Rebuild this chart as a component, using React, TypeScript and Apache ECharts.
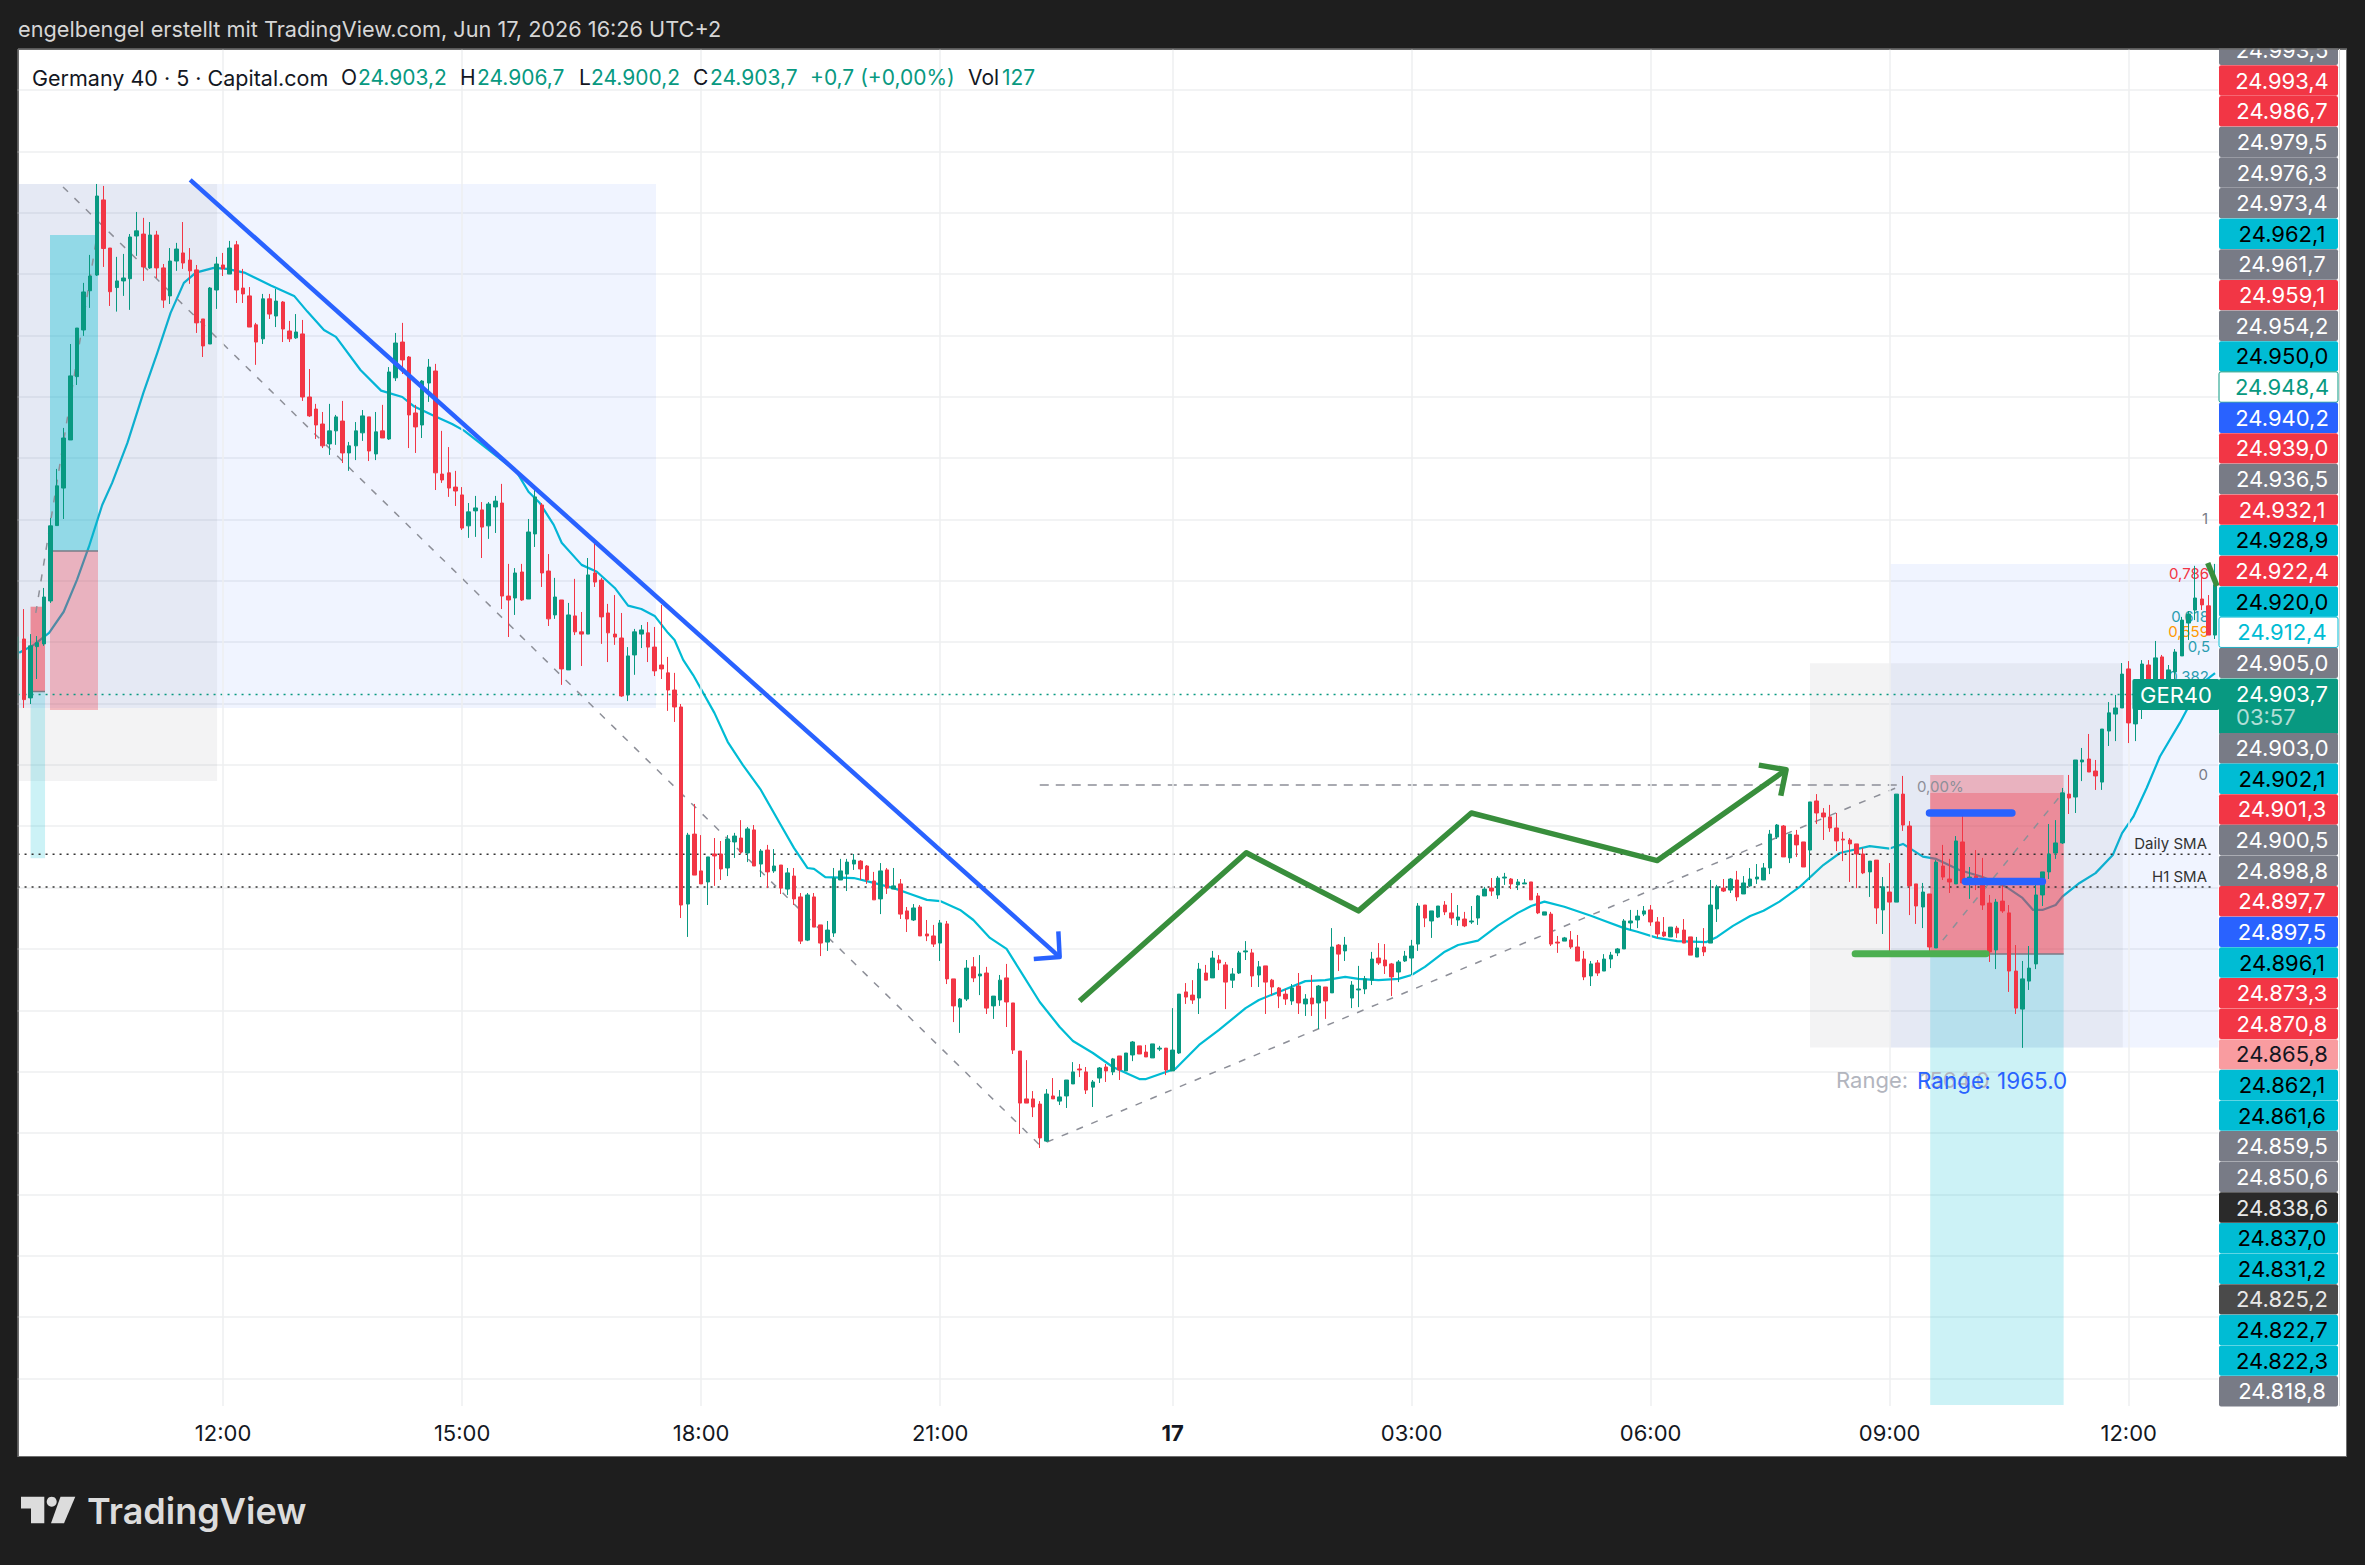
import React, { useEffect, useRef } from "react";
import * as echarts from "echarts";

// [open, close, low, high] (German decimals in the UI)
const candlesA = [
[24918.2,24927.1,24914.5,24929.2],[24926.3,24901.6,24898.2,24938.5],[24902.3,24923.5,24899.8,24928.3],[24923.2,24924.8,24910,24927.5],[24924.3,24943.4,24923.5,24947.1],
[24941.8,24972.4,24941,24975.6],[24972.5,24988.7,24972.4,24995.6],[24987.8,25008.2,24975.2,25012.3],[25007.4,25033.5,25007.4,25046.5],[25033.2,25053,25029.8,25053],
[25052.2,25067.7,25049.8,25071.4],[25068.2,25074.2,25061.2,25082.8],[25074.6,25106.8,25074.2,25111.7],[25105.2,25085.4,25077.9,25110.9],[25085.6,25067.8,25062,25085.6],
[25069.5,25072.2,25059.7,25082],[25072.2,25073.4,25066.1,25083.2],[25073.1,25090.1,25060.4,25091.3],[25090.5,25092.6,25082.4,25100.3],[25091.3,25077.9,25072.2,25097.9],
[25077.5,25090.9,25077.1,25096.2],[25090.9,25077.5,25073.4,25092.6],[25077.5,25064.4,25061.2,25079.1],[25066.1,25080.3,25062.8,25085.6],[25080.3,25085.2,25076.3,25087.7],
[25083.6,25079.5,25077.1,25096.2],[25080.7,25076.3,25071,25085.6],[25076.7,25055.1,25051,25078.7],[25056.7,25045.7,25041.2,25056.7],[25046.5,25069.3,25046.5,25069.7],
[25068.5,25079.1,25060.8,25082],[25078.7,25077.1,25074.2,25083.6],[25075,25085.6,25075,25088.5],[25086.9,25068.5,25063.2,25088.5],[25069.3,25066.9,25063.2,25077.1],
[25066.1,25053.4,25053.4,25069.7],[25054.3,25047.3,25038,25055.1],[25048.6,25064.9,25046.5,25066.9],[25064.9,25058.7,25056.7,25066.9],[25057.9,25064,25053.4,25068.9],
[25063.6,25052.6,25047.3,25064],[25051.8,25048.6,25047.3,25055.9],[25049,25051.4,25048.6,25058.7],[25050.6,25024.9,25023.3,25056.3],[25024.9,25017.2,25016.8,25036.3],
[25020,25013.5,25007.8,25022.1],[25013.9,25005,25004.1,25018.8],[25005.8,25011.1,25001.3,25022.1],[25011.1,25016.8,25005.4,25017.6],[25015.1,25002.1,24998,25023.3],
[25002.1,25005,24994.8,25006.6],[25005,25011.1,24999.2,25014.7],[25010.3,25017.2,25007,25019.6],[25016.8,25002.9,24998.8,25016.8],[25001.7,25010.7,24999.2,25018.8],
[25011.1,25008.2,25008.2,25021.7],[25007.8,25035.1,25007.4,25037.1],[25032.7,25046.9,25031.4,25051],[25047.3,25040,25034.3,25055.1],[25041.2,25017.6,25004.1,25041.6],
[25018.4,25012.7,25002.1,25021.7],[25013.5,25031.4,25008.2,25031.8],[25030.6,25037.1,25022.9,25040.4],[25035.5,24994,24987,25038.4],[24993.5,24991.1,24989.9,25011.1],
[24994,24987.8,24984.2,25004.5],[24988.2,24986.6,24980.5,24994.8],
];
const candlesB = [
[24985,24971.5,24970.7,24988.2],[24972.4,24978.1,24967.5,24981.7],[24978.5,24979.7,24967.9,24984.6],[24978.9,24971.9,24959.3,24982.1],[24972.4,24981.3,24967.1,24982.1],
[24980.1,24982.5,24969.5,24984.6],[24981.7,24943.8,24938.5,24989.5],[24943.8,24942.2,24927.1,24956.9],[24943,24953.2,24936.1,24955.2],[24953.6,24942.2,24941.8,24956.9],
[24942.6,24969.9,24942.6,24975.2],[24969.1,24984.2,24963.8,24987],[24980.9,24953.2,24947.5,24981.7],[24954,24934.5,24931.6,24960.9],[24936.1,24943.4,24934.5,24951.2],
[24942.2,24914.1,24907.6,24942.2],[24913.7,24936.1,24913.7,24941],[24935.7,24929.2,24927.9,24950.8],[24929.2,24928.3,24915.3,24937.3],[24928.3,24952.4,24928.3,24959.3],
[24953.2,24949.5,24947.5,24967.1],[24950.3,24935.3,24924.3,24951.2],[24936.9,24928.8,24916.9,24940.6],[24928.3,24927.1,24923.9,24944.2],[24926.7,24903.1,24902.7,24936.9],
[24903.5,24919.4,24901,24923],[24919.8,24929.2,24911.7,24930.4],[24928.3,24930,24922.6,24932],[24928.8,24923,24916.9,24933.2],[24923,24913.3,24911.2,24931.2],
[24915.7,24914.1,24910,24940.2],[24912.5,24905.5,24897,24919],[24905.5,24898.6,24892.5,24912.5],[24898.6,24817.9,24812.6,24899.8],[24818.3,24846.4,24804.9,24847.3],
[24846.8,24830.1,24830.1,24859.1],[24831.8,24826.5,24826.5,24846.4],[24827.3,24837.5,24817.9,24837.5],[24838.7,24837.9,24825.7,24845.2],[24838.7,24832.6,24828.1,24844],
[24833,24844.8,24829.7,24846.4],[24843.6,24846,24837.1,24847.3],[24845.2,24839.5,24838.7,24852.5],[24839.1,24848.9,24835.4,24849.7],[24848.5,24833.8,24833.8,24850.5],
[24834.6,24839.9,24829.3,24840.7],[24840.3,24831.4,24824.8,24842.4],[24831.8,24833.8,24831,24840.7],[24834.2,24824.8,24822.4,24834.2],[24824.4,24831,24822,24833],
[24829.7,24820.4,24817.9,24833],[24821.2,24803.2,24802,24822.8],[24803.6,24822,24803.2,24822.8],[24821.2,24808.9,24808.9,24822.8],[24809.8,24802.4,24797.1,24809.8],
[24802.8,24807.7,24799.2,24811.4],[24806.5,24828.9,24804.9,24833],[24828.1,24831.8,24828.1,24836.7],[24830.5,24835.4,24823.6,24836.7],[24834.6,24836.2,24832.2,24838.7],
[24835.8,24832.6,24828.1,24836.2],[24833.8,24828.1,24826.5,24834.2],[24827.7,24820,24820,24831.4],[24820.4,24831.8,24814.2,24835],[24832.2,24824.8,24822.4,24833],
[24824.4,24825.7,24824.4,24833],[24826.5,24814.2,24812.2,24828.5],[24815.5,24812.2,24806.9,24817.1],
];
const candlesC = [
[24811.8,24816.7,24811.4,24818.3],[24817.1,24805.3,24805.3,24817.9],[24806.1,24805.3,24803.2,24811.8],[24805.3,24802,24800.8,24809.8],[24802.4,24810.6,24795.1,24811.8],
[24810.2,24787.8,24785.7,24811.4],[24787.8,24776.8,24770.2,24787.8],[24776.3,24779.6,24765.8,24780],[24779.6,24792.2,24778.8,24795.5],[24792.7,24788.2,24786.5,24796.7],
[24789,24789.8,24781.2,24797.5],[24790.2,24775.9,24773.5,24792.7],[24776.8,24780.8,24771.5,24780.8],[24779.2,24787.3,24776.8,24789.4],[24788.2,24778.4,24768.2,24793.9],
[24778,24758.8,24757.2,24778],[24758.4,24737.2,24724.6,24758.4],[24738.9,24737.2,24737.2,24754.7],[24738.9,24735.6,24731.5,24742.1],[24736.8,24723,24718.9,24738],
[24721.7,24740.9,24721.3,24742.9],[24740.1,24738.9,24738.9,24747.4],[24738,24739.7,24736.4,24742.5],[24740.1,24746.6,24735.2,24746.6],[24745,24749.9,24745,24753.9],
[24751.1,24750.7,24747.8,24753.1],[24749.9,24742.5,24740.9,24751.9],[24743.7,24745.8,24735.6,24746.6],[24747.4,24751.5,24745.4,24751.9],[24751.9,24750.3,24745.8,24753.1],
[24749.9,24755.2,24748.6,24755.6],[24756.4,24750.7,24746.6,24756.4],[24750.3,24757.6,24750.3,24757.6],[24756.8,24762.1,24754.3,24762.5],[24760.5,24757.2,24757.2,24760.5],
[24758,24756,24756,24760.9],[24755.6,24761.3,24755.6,24761.3],[24759.2,24759.6,24758.4,24760.5],[24759.6,24750.7,24748.6,24759.6],[24750.3,24758.8,24750.3,24775.9],
[24757.6,24781.6,24757.2,24781.6],[24782.5,24780.4,24777.6,24786.1],[24781.2,24779.2,24777.6,24787.3],[24780,24791.8,24773.5,24794.3],[24790.2,24787.3,24787.3,24793.5],
[24788.2,24796.3,24788.2,24799.2],[24795.5,24794.3,24791.4,24797.5],[24793.5,24786.5,24775.5,24794.7],[24787.3,24789.8,24784.1,24792.2],[24790.2,24798.4,24789.8,24799.2],
[24798.8,24799.2,24795.5,24803.2],[24798.4,24789,24784.5,24800],[24789.4,24792.7,24784.5,24795.1],[24793.1,24786.5,24773.5,24793.1],[24787.3,24784.5,24781.2,24787.8],
[24784.1,24780.8,24775.9,24784.5],[24781.6,24779.6,24777.2,24783.7],[24778.8,24784.1,24777.2,24785.7],[24784.9,24778,24773.5,24790.2],[24777.6,24779.6,24772.7,24781.6],
[24780,24777.6,24772.7,24789.4],[24778,24784.9,24767.4,24785.3],[24784.5,24778.8,24771.5,24784.5],[24782.1,24800.8,24782.1,24808.5],[24801.6,24797.9,24791,24802],
[24799.2,24801.6,24795.1,24804.9],
];
const candlesD = [
[24780,24785.3,24775.9,24786.9],[24783.3,24783.7,24776.3,24793.1],[24783.7,24787.8,24781.6,24789],[24787.3,24795.9,24785.3,24798.8],[24796.3,24794.3,24793.5,24802.4],
[24795.5,24793.1,24789.8,24802],[24793.9,24788.6,24780.8,24794.3],[24790.6,24794.7,24786.5,24795.5],[24795.1,24797.1,24794.7,24799.2],[24796.3,24801.2,24789.4,24803.7],
[24802,24817.5,24799.2,24818.7],[24817.9,24812.6,24808.9,24817.9],[24811.4,24815.5,24804.5,24815.5],[24813,24817.5,24812.6,24817.5],[24817.9,24815.1,24813.8,24819.5],
[24814.7,24812.6,24809.8,24822.8],[24811.8,24813,24809.4,24817.9],[24812.2,24809.4,24808.9,24815.1],[24811,24811.4,24810.2,24817.5],[24812.6,24821.6,24809.8,24822],
[24821.6,24824.4,24821.6,24825.3],[24824.8,24823.6,24821.6,24828.9],[24822,24828.9,24820.4,24829.7],[24828.9,24829.3,24826.1,24831],[24828.5,24826.5,24824.4,24828.9],
[24826.1,24827.3,24824,24828.5],[24826.5,24826.9,24826.5,24828.5],[24827.3,24820,24820,24827.3],[24821.6,24814.7,24814.2,24822.8],[24813.8,24815.1,24813.8,24815.1],
[24814.2,24802,24801.2,24815.1],[24802.8,24802.4,24798.4,24805.3],[24803.2,24804.5,24803.2,24804.9],[24803.7,24800.8,24800,24807.3],[24800.8,24795.1,24795.1,24805.7],
[24795.9,24788.6,24787.3,24799.2],[24789,24793.9,24784.9,24795.1],[24794.3,24790.2,24789,24795.5],[24791,24795.9,24791,24797.9],[24795.9,24797.5,24792.2,24798.8],
[24798.4,24800,24797.1,24800.4],[24800,24811.4,24800,24812.2],[24810.6,24811.4,24807.7,24815.9],[24811.8,24813.4,24808.5,24815.9],[24814.2,24815.5,24813.4,24817.5],
[24815.9,24811,24809.4,24817.9],[24811,24806.1,24804.5,24813],[24806.9,24805.3,24804.9,24813],[24804.9,24808.9,24804.9,24808.9],[24808.5,24806.5,24804.5,24809.4],
[24807.7,24802.4,24802.4,24812.2],[24804.9,24797.5,24797.5,24804.9],[24796.7,24800.4,24796.7,24804.9],[24800.8,24798.8,24797.1,24808.5],[24802.4,24817.9,24802.4,24828.1],
[24816.3,24825.3,24811,24826.1],[24824.8,24823.6,24823.2,24828.5],[24824,24828.5,24822.8,24828.9],[24828.1,24821.2,24819.5,24831.8],[24822.4,24826.9,24822.4,24829.7],
[24825.7,24828.5,24825.3,24833],[24828.5,24829.3,24826.5,24834.6],[24828.1,24833,24828.1,24835],[24833,24846.8,24830.5,24848.5],[24845.6,24850.5,24844.8,24850.9],
[24850.1,24837.5,24837.5,24850.5],
];
const candlesE = [
[24837.1,24846.8,24835,24846.8],[24846.4,24842.4,24837.5,24848.5],[24843.6,24833.4,24833.4,24843.6],[24840.3,24859.9,24828.1,24859.9],[24860.3,24855.4,24850.9,24863.1],
[24855.4,24853.8,24844.4,24857.4],[24853.8,24849.3,24847.7,24858.7],[24849.3,24844,24839.9,24855.4],[24844.8,24844.4,24835.8,24847.7],[24844.4,24842.8,24827.3,24845.2],
[24842.8,24838.7,24824.8,24842.8],[24838.7,24831,24830.5,24841.1],[24831.4,24835.8,24821.2,24835.8],[24836.2,24816.7,24810.2,24836.2],[24815.9,24825.3,24806.1,24829.3],
[24823.2,24819.1,24797.9,24835],[24819.1,24863.1,24819.1,24863.1],[24863.1,24850.5,24848.1,24870.5],[24850.1,24825.7,24813.8,24852.1],[24826.5,24817.5,24810.2,24826.5],
[24817.1,24823.2,24808.5,24826.9],[24822.4,24800.8,24797.1,24822.4],[24800.4,24835.4,24800.4,24836.2],[24833.8,24829.3,24828.1,24842.4],[24828.5,24827.3,24822.8,24836.7],
[24826.5,24844,24826.5,24846],[24843.6,24826.9,24826.9,24855],[24828.5,24829.3,24820.4,24833.4],[24829.7,24828.5,24824,24840.3],[24828.9,24817.9,24815.9,24837.1],
[24818.7,24798.8,24794.7,24822],[24799.6,24819.1,24791.8,24820.4],[24819.5,24815.5,24814.7,24827.7],[24814.7,24791,24782.5,24817.9],[24791,24775.9,24773.5,24801.6],
[24775.5,24787.8,24759.7,24795.1],[24786.9,24792.2,24783.3,24801.2],[24793.9,24822,24791.8,24826.1],[24822,24831.4,24817.5,24831.4],[24831.4,24838.7,24828.5,24850.9],
[24839.1,24843.2,24836.7,24852.5],[24843.2,24863.6,24842.8,24865.6],[24863.1,24861.5,24855,24870.9],[24861.9,24877,24855.4,24877],[24876.2,24877,24868.4,24881.9],
[24877.4,24872.1,24872.1,24887.6],[24872.5,24870.5,24864.8,24877],[24868,24889.6,24864.8,24889.6],[24888.8,24896.2,24882.7,24900.6],[24895.7,24898.2,24884.7,24903.5],
[24898.2,24912,24898.2,24916.5],[24914.1,24892.1,24883.9,24917.3],[24891.7,24905.5,24884.7,24907.6],[24899.4,24916.1,24893.7,24917.7],[24915.7,24903.5,24901.4,24917.7],
[24903.5,24918.6,24901.4,24925.5],[24919,24908.4,24905.5,24919.8],[24907.6,24913.7,24903.5,24915.7],[24912.9,24921,24909.6,24922.2],[24919.4,24934,24919.4,24935.3],
[24932.8,24936.5,24925.9,24937.7],[24938.1,24943,24934,24956.1],[24942.6,24940.2,24938.1,24954.4],[24939.8,24927.9,24927.9,24944.2],[24927.9,24948.4,24926.3,24956.9],
];
const candles = [...candlesA, ...candlesB, ...candlesC, ...candlesD, ...candlesE];

// Moving average: bar position, price
const emaBars = [0.3,2.5,4.8,7,9,10.8,12.8,14.3,16.6,19,21.1,23.1,25.1,26.9,29.6,31.6,34.2,38.2,41.7,43.7,46.2,48,51.7,54.8,58,59.8,62.5,65.5,67.3,75.2,77,78.7,80.8,82,85,87.3,90,92,94,96,98,99,100.3,101.8,105,107,109.3,112,115,117,119,120,121.7,126,129,132,134.5,137,139,142,144,146.5,149,151,154,157,159,162,165,169,170,173,174.4,178,181,185,187,190,194,197,200,202,205,208,210,212,215,217,220,223,226,228,230,233,237,239,242,244,247,250,254.4,256,258.4,261,263,265.4,268.5,272,274.5,279,282,284,287,289,292.5,296,299.6,302,303.6,305,307,308,310.6,313,315.6,317,318.7,320.7,322.7,325.7,327,329.7,331];
const emaPrices = [24920.7,24923.9,24928.8,24937.4,24950.4,24963.9,24980.9,24989.9,25006.2,25026.6,25042.9,25059.2,25071.4,25075.6,25077.5,25077.1,25075.6,25070.3,25066.1,25059.7,25052.2,25049.4,25035.9,25027.5,25024.9,25021,25017.6,25013.9,25011.2,24994.5,24986.3,24981.7,24972.8,24965.5,24956.5,24953.7,24947.1,24939.9,24938.5,24935.7,24928.8,24925.9,24917.8,24911.6,24896.2,24884.4,24874.9,24864.8,24850.5,24841.1,24833,24832.6,24829.3,24828.9,24826.9,24824.8,24822.4,24820,24819.5,24815.9,24811.8,24804.5,24800,24791.4,24778.4,24768.2,24762.5,24757.6,24751.9,24747,24747,24749.9,24751.1,24760.9,24767,24775.9,24779.2,24782.5,24786.9,24787.3,24788.6,24787.8,24787.3,24787.8,24789.4,24792.7,24798.9,24801.6,24803.4,24809.5,24814.7,24817.5,24819.3,24817.2,24813.5,24811.5,24808.5,24807,24804.5,24803.2,24802.8,24804.9,24809.4,24813.4,24815.6,24819.3,24825.4,24834.2,24839.1,24841.9,24840.9,24842.8,24837.6,24836.7,24832.2,24829.3,24825.2,24820.8,24815.9,24815.9,24817.9,24821.3,24826.9,24830.9,24838.3,24847.2,24853.9,24865.6,24878.4,24892.1,24898.7,24909.6,24912.4];

const tickBars = [31, 67, 103, 139, 174, 210, 246, 282, 318];
const tickLabels = ["12:00", "15:00", "18:00", "21:00", "17", "03:00", "06:00", "09:00", "12:00"];

// Drawing tools in [bar, price]
const blueTrend = [[26.05, 25113.4], [157, 24796.7]];
const blueHead = [[156.8, 24807.2], [157, 24796.7], [153.1, 24795.9]];
const greenPath = [[160, 24778.8], [185.1, 24839.2], [202, 24815.5], [219, 24855.4], [247, 24836], [266.4, 24873]];
const greenHead = [[262.3, 24874.9], [266.4, 24873], [265.6, 24862.4]];
const greenTail = [[329.9, 24957.3], [331.3, 24947.9]];
const fibPath = [[6.9, 25110.5], [154, 24720.1], [284, 24866.8]];
const fibLevel = [[154, 24866.8], [284, 24866.8]];
const fibShort = [[290, 24803.6], [308.3, 24864.4]];
const fibLeft = [[2.8, 24936.9], [12, 25090.5]];
const blueMarkHigh = [[288, 24855.4], [300.4, 24855.4]];
const blueMarkLow = [[293.4, 24827.5], [305, 24827.5]];
const greenMark = [[276.8, 24798], [296.5, 24798]];
const lastPrice = 24903.7;
const dailySma = 24838.6;
const h1Sma = 24825.2;
const splitLeft = [[4.94, 24962.2], [12.17, 24962.2]];
const splitSmall = [[2.02, 24904.9], [4.19, 24904.9]];
const splitRight = [[288.1, 24797.9], [308.2, 24797.9]];

// Boxes: barFrom, barTo, priceTop, priceBottom
const boxes = [
  [-0.8, 96.2, 25111.7, 24898.2],
  [-0.8, 30.1, 25111.7, 24868.4],
  [4.94, 12.17, 25090.9, 24962.2],
  [4.94, 12.17, 25090.9, 24962.2],
  [4.94, 12.17, 24962.2, 24897.4],
  [2.02, 4.19, 24939.4, 24904.9],
  [2.02, 4.19, 24939.4, 24904.9],
  [2.02, 4.19, 24904.9, 24837],
  [282.1, 331.5, 24956.9, 24759.8],
  [270, 317.1, 24916.4, 24759.8],
  [288.1, 308.2, 24870.9, 24797.9],
  [288.1, 308.2, 24863.5, 24797.9],
  [288.1, 308.2, 24797.9, 24614.2],
];
const BLUE = "rgba(41,98,255,0.07)";
const GRAY = "rgba(120,123,134,0.09)";
const PINK = "rgba(242,54,69,0.3)";
const CYAN = "rgba(0,188,212,0.2)";
const boxFills = [BLUE, GRAY, CYAN, CYAN, PINK, PINK, PINK, CYAN, BLUE, GRAY, PINK, PINK, CYAN];

const tagLabels = ["24.993,5","24.993,4","24.986,7","24.979,5","24.976,3","24.973,4","24.962,1","24.961,7","24.959,1","24.954,2","24.950,0","24.948,4","24.940,2","24.939,0","24.936,5","24.932,1","24.928,9","24.922,4","24.920,0","24.912,4","24.905,0","24.903,7","24.903,0","24.902,1","24.901,3","24.900,5","24.898,8","24.897,7","24.897,5","24.896,1","24.873,3","24.870,8","24.865,8","24.862,1","24.861,6","24.859,5","24.850,6","24.838,6","24.837,0","24.831,2","24.825,2","24.822,7","24.822,3","24.818,8"];
const tagKinds = "GRRGGGCGRGCwBRGRCRCvGTGCRGGRBCRRPCCGGDCCKCCG".split("");
const KIND: any = {
  G: ["#787b86", "#ffffff"], R: ["#f23645", "#ffffff"], C: ["#00bcd4", "#000000"], B: ["#2962ff", "#ffffff"],
  T: ["#089981", "#ffffff"], P: ["#f99ca0", "#131722"], D: ["#2a2a2a", "#e8e8e8"], K: ["#4a4a4a", "#e8e8e8"],
  w: ["#ffffff", "#089981"], v: ["#ffffff", "#00bcd4"],
};

const FONT = "Inter";
function txt(text: string, x: number, y: number, fill: string, size: number, align = "left", weight = "400", z = 60) {
  return {
    type: "text", x, y, z, silent: true,
    style: { text, fill, font: `${weight} ${size}px ${FONT}`, textAlign: align, textVerticalAlign: "middle", align, verticalAlign: "middle" },
  };
}
function poly(data: number[][], color: string, width: number, z: number, type: any = "solid", cap = "butt") {
  return {
    type: "line", xAxisIndex: 1, yAxisIndex: 0, data, symbol: "none", silent: true, z,
    lineStyle: { color, width, type, cap, join: "round" },
  };
}

export default function App() {
  const ref = useRef<HTMLDivElement>(null);
  useEffect(() => {
    const chart = echarts.init(ref.current!, undefined, { renderer: "svg" });
    const tagEls: any[] = [];
    tagLabels.forEach((label, k) => {
      const [bg, ink] = KIND[tagKinds[k]];
      const isLast = k === 21;
      const cy = k <= 20 ? 49.9 + 30.65 * k : 748.2 + 30.62 * (k - 22);
      const top = isLast ? 678.5 : cy - 15.2;
      const h = isLast ? 56 : 30.4;
      tagEls.push({
        type: "rect", z: 40, silent: true,
        shape: { x: 2219, y: top, width: 119, height: h, r: 2 },
        style: { fill: bg, stroke: bg === "#ffffff" ? ink : undefined, lineWidth: 1 },
      });
      tagEls.push(txt(label, 2282, isLast ? 693.5 : cy, ink, 22, "center", "400", 41));
    });
    const option: any = {
      animation: false,
      backgroundColor: "transparent",
      grid: { left: 13.88, top: 49, width: 2204.48, height: 1390.8, containLabel: false },
      xAxis: [
        {
          type: "category",
          data: candles.map((_, i) => String(i)),
          axisLine: { show: false },
          axisTick: { show: false },
          splitLine: { show: false },
          axisLabel: {
            interval: (i: number) => tickBars.includes(i),
            formatter: (_v: string, i: number) => {
              const s = tickLabels[tickBars.indexOf(i)] ?? "";
              return s === "17" ? "{b|17}" : s;
            },
            color: "#131722", fontSize: 22, fontFamily: FONT, margin: -18, hideOverlap: false,
            rich: { b: { fontWeight: "bold", fontSize: 22, fontFamily: FONT, color: "#131722" } },
          },
        },
        { type: "value", min: -0.5, max: 331.5, show: false, position: "top", splitLine: { show: false } },
      ],
      yAxis: {
        type: "value", min: 24600, max: 25166.7, interval: 25, position: "right",
        axisLine: { show: false }, axisTick: { show: false }, axisLabel: { show: false },
        splitLine: { show: true, showMinLine: false, showMaxLine: false, lineStyle: { color: "#eeeff1", width: 1.5 } },
      },
      series: [
        {
          type: "line", xAxisIndex: 1, yAxisIndex: 0, data: [], symbol: "none", silent: true, z: 0,
          markLine: {
            symbol: "none", silent: true, label: { show: false },
            lineStyle: { color: "#eeeff1", width: 1.5, type: "solid" },
            data: tickBars.map((b) => [{ coord: [b, 25166.7] }, { coord: [b, 24613.8] }]),
          },
        },
        poly(emaBars.map((b, k) => [b, emaPrices[k]]), "#00bcd4", 2.2, 1),
        {
          type: "custom", xAxisIndex: 1, yAxisIndex: 0, z: 2, silent: true, clip: true,
          data: boxes, encode: { x: [0, 1], y: [2, 3] },
          renderItem: (params: any, api: any) => {
            const a = api.coord([api.value(0), api.value(2)]);
            const b = api.coord([api.value(1), api.value(3)]);
            return { type: "rect", shape: { x: a[0], y: a[1], width: b[0] - a[0], height: b[1] - a[1] }, style: { fill: boxFills[params.dataIndex] } };
          },
        },
        poly(splitLeft, "#787b86", 1.5, 3),
        poly(splitSmall, "#787b86", 1.5, 3),
        poly(splitRight, "#787b86", 1.5, 3),
        poly([[-1, lastPrice], [331.6, lastPrice]], "#089981", 1.5, 3, [2, 5]),
        poly([[-1, dailySma], [331, dailySma]], "#333333", 1.5, 3, [2, 5]),
        poly([[-1, h1Sma], [331, h1Sma]], "#333333", 1.5, 3, [2, 5]),
        poly(fibPath, "#8d8f98", 1.5, 3, [7, 9]),
        poly(fibLevel, "#8d8f98", 1.5, 3, [9, 7]),
        poly(fibShort, "#8d8f98", 1.5, 3, [7, 9]),
        poly(fibLeft, "#8d8f98", 1.5, 3, [7, 9]),
        {
          type: "candlestick", xAxisIndex: 0, yAxisIndex: 0, data: candles, barWidth: 4, z: 5, silent: true,
          itemStyle: { color: "#089981", color0: "#f23645", borderColor: "#089981", borderColor0: "#f23645", borderWidth: 1 },
        },
        poly(blueTrend, "#2962ff", 4.5, 6),
        poly(blueHead, "#2962ff", 4.5, 6),
        poly(greenPath, "#388e3c", 5.5, 6),
        poly(greenHead, "#388e3c", 5.5, 6),
        poly(greenTail, "#388e3c", 5.5, 6),
        poly(blueMarkHigh, "#2962ff", 7.5, 6, "solid", "round"),
        poly(blueMarkLow, "#2962ff", 7.5, 6, "solid", "round"),
        poly(greenMark, "#4caf50", 7, 6, "solid", "round"),
      ],
      graphic: { elements: [
        // fib + SMA texts
        txt("1", 2208, 518, "#787b86", 15, "right", "400", 3),
        txt("0,786", 2209, 573, "#f23645", 15, "right", "400", 3),
        txt("0,618", 2209, 616, "#2a9db0", 15, "right", "400", 3),
        txt("0,559", 2209, 631, "#ff9800", 15, "right", "400", 3),
        txt("0,5", 2210, 646, "#2a9db0", 15, "right", "400", 3),
        txt("0,382", 2209, 676, "#2a9db0", 15, "right", "400", 3),
        txt("0", 2208, 774, "#787b86", 15, "right", "400", 3),
        txt("0,00%", 1917, 786, "#8d8f98", 15, "left", "400", 3),
        txt("Daily SMA", 2207, 843, "#333333", 15, "right", "400", 7),
        txt("H1 SMA", 2207, 876, "#333333", 15, "right", "400", 7),
        txt("Range:  1564.0", 1836, 1080, "#b2b5be", 22, "left", "400", 7),
        txt("Range: 1965.0", 1917, 1080, "#2962ff", 22.5, "left", "400", 8),
        // GER40 flag
        { type: "rect", z: 39, silent: true, shape: { x: 2132.4, y: 679, width: 87, height: 31, r: 2 }, style: { fill: "#089981" } },
        txt("GER40", 2176, 694.5, "#ffffff", 22, "center", "400", 41),
        ...tagEls,
        txt("03:57", 2236, 717, "rgba(255,255,255,0.7)", 22, "left", "400", 41),
        // frame on top
        { type: "rect", z: 50, silent: true, shape: { x: 0, y: 0, width: 2365, height: 48.5 }, style: { fill: "#1e1e1e" } },
        { type: "rect", z: 50, silent: true, shape: { x: 0, y: 0, width: 17.5, height: 1565 }, style: { fill: "#1e1e1e" } },
        { type: "line", z: 51, silent: true, shape: { x1: 18, y1: 49, x2: 2347, y2: 49 }, style: { stroke: "#6e6e6e", lineWidth: 1.5 } },
        { type: "line", z: 51, silent: true, shape: { x1: 18, y1: 49, x2: 18, y2: 1457 }, style: { stroke: "#6e6e6e", lineWidth: 1.5 } },
        { type: "line", z: 51, silent: true, shape: { x1: 2339.5, y1: 49, x2: 2339.5, y2: 1406 }, style: { stroke: "#d9d9d9", lineWidth: 1 } },
        txt("engelbengel erstellt mit TradingView.com, Jun 17, 2026 16:26 UTC+2", 18, 28.5, "#d6d6d6", 21.7, "left", "400", 60),
        txt("Germany 40 · 5 · Capital.com", 32, 77.5, "#131722", 21.5),
        txt("O", 341, 77.5, "#131722", 21), txt("24.903,2", 358, 77.5, "#089981", 21),
        txt("H", 460, 77.5, "#131722", 21), txt("24.906,7", 477, 77.5, "#089981", 21),
        txt("L", 579, 77.5, "#131722", 21), txt("24.900,2", 591, 77.5, "#089981", 21),
        txt("C", 693, 77.5, "#131722", 21), txt("24.903,7", 710, 77.5, "#089981", 21),
        txt("+0,7 (+0,00%)", 810, 77.5, "#089981", 21),
        txt("Vol", 968, 77.5, "#131722", 21), txt("127", 1002, 77.5, "#089981", 21),
        // logo
        { type: "polygon", z: 60, silent: true, shape: { points: [[21, 1496.7], [44.3, 1496.7], [44.3, 1523.3], [31, 1523.3], [31, 1508.5], [21, 1508.5]] }, style: { fill: "#dcdcdc" } },
        { type: "circle", z: 60, silent: true, shape: { cx: 51.7, cy: 1501.7, r: 5 }, style: { fill: "#dcdcdc" } },
        { type: "polygon", z: 60, silent: true, shape: { points: [[60.5, 1496.7], [75.3, 1496.7], [64, 1523.3], [51, 1523.3]] }, style: { fill: "#dcdcdc" } },
        txt("TradingView", 87, 1511, "#dcdcdc", 36, "left", "600", 60),
      ] },
    };
    chart.setOption(option);
    return () => chart.dispose();
  }, []);
  return (
    <div style={{ position: "fixed", left: 0, top: 0, width: 2365, height: 1565, background: "#1e1e1e", overflow: "hidden" }}>
      <div style={{ position: "absolute", left: 18, top: 49, width: 2329, height: 1408, background: "#ffffff", boxSizing: "border-box", border: "1px solid #6e6e6e" }} />
      <div ref={ref} style={{ position: "absolute", left: 0, top: 0, width: 2365, height: 1565 }} />
    </div>
  );
}
